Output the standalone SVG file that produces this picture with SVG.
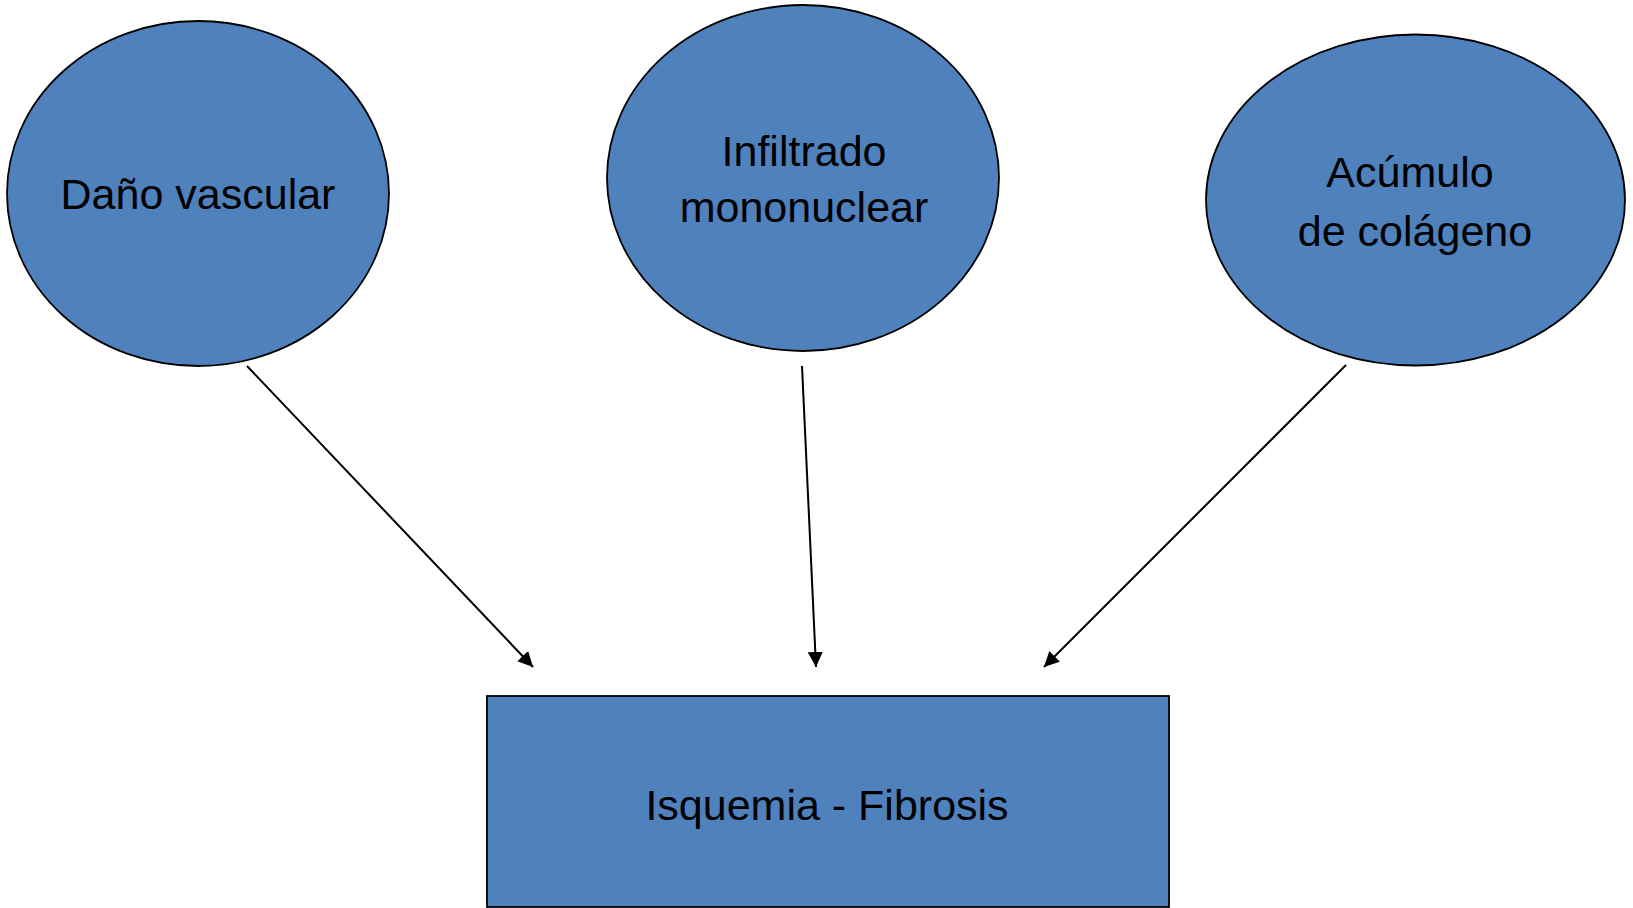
<svg xmlns="http://www.w3.org/2000/svg" width="1633" height="908" viewBox="0 0 1633 908">
<style>
.node{fill:#4F81BD;stroke:#000;stroke-width:1.8}
.lbl{font-family:"Liberation Sans",Arial,sans-serif;font-size:43px;fill:#000;text-anchor:middle}
.conn{stroke:#000;stroke-width:2;fill:none;marker-end:url(#arr)}
</style>
<defs>
<marker id="arr" viewBox="0 0 10 10" refX="10" refY="5" markerWidth="7.5" markerHeight="7.5" orient="auto" markerUnits="strokeWidth">
<path d="M0,0 L10,5 L0,10 z" fill="#000"/>
</marker>
</defs>
<rect width="1633" height="908" fill="#fff"/>
<g id="n1">
<ellipse class="node" cx="198" cy="193.5" rx="191" ry="172.5"/>
<text class="lbl" x="198" y="209">Daño vascular</text>
</g>
<g id="n2">
<ellipse class="node" cx="803" cy="178" rx="196" ry="173"/>
<text class="lbl" x="804" y="166">Infiltrado</text>
<text class="lbl" x="804" y="222">mononuclear</text>
</g>
<g id="n3">
<ellipse class="node" cx="1415.5" cy="200" rx="209.5" ry="165.5"/>
<text class="lbl" x="1410" y="187">Acúmulo</text>
<text class="lbl" x="1415" y="246">de colágeno</text>
</g>
<g id="n4">
<rect class="node" x="487" y="696" width="682" height="211"/>
<text class="lbl" x="827" y="820">Isquemia - Fibrosis</text>
</g>
<g id="connectors">
<line class="conn" x1="247" y1="366" x2="533" y2="667"/>
<line class="conn" x1="802" y1="366" x2="816" y2="667"/>
<line class="conn" x1="1346" y1="365" x2="1044" y2="667"/>
</g>
</svg>
